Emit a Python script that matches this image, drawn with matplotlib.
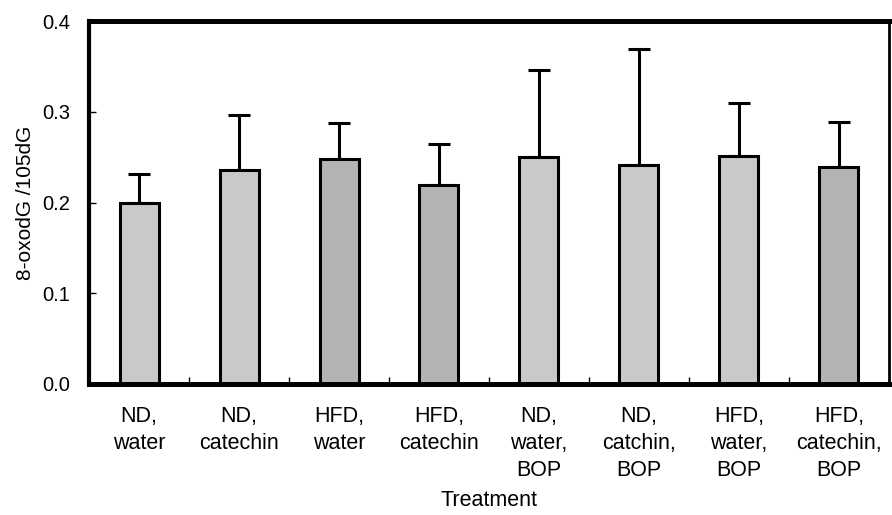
import matplotlib.pyplot as plt
import numpy as np

plt.rcParams['font.family'] = ['Liberation Sans', 'DejaVu Sans']

# data
categories = ['ND,\nwater', 'ND,\ncatechin', 'HFD,\nwater', 'HFD,\ncatechin',
              'ND,\nwater,\nBOP', 'ND,\ncatchin,\nBOP', 'HFD,\nwater,\nBOP', 'HFD,\ncatechin,\nBOP']
means = [0.200, 0.236, 0.248, 0.219, 0.250, 0.241, 0.251, 0.239]
sd_upper = [0.032, 0.060, 0.040, 0.045, 0.096, 0.128, 0.059, 0.050]
shade = ['light', 'light', 'dark', 'dark', 'light', 'light', 'light', 'dark']
yticks = [0.0, 0.1, 0.2, 0.3, 0.4]

colors = {'light': '#c9c9c9', 'dark': '#b3b3b3'}

fig = plt.figure(figsize=(8.92, 5.15), dpi=100)
ax = fig.add_axes([0.0998, 0.2544, 0.8968, 0.7046])

x = np.arange(len(categories))
ax.bar(x, means, width=0.39, color=[colors[s] for s in shade],
       edgecolor='black', linewidth=2.2, zorder=2)
ax.errorbar(x, means, yerr=[np.zeros(len(means)), sd_upper], fmt='none',
            ecolor='black', elinewidth=2.2, capsize=8, capthick=2.2, zorder=1)

ax.set_xlim(-0.5, len(categories) - 0.5)
ax.set_ylim(0, 0.4)
ax.set_yticks(yticks)
ax.set_yticklabels([f'{v:.1f}' for v in yticks], fontsize=14.5)
ax.set_xticks(x)
ax.set_xticklabels(categories, fontsize=15.5, linespacing=1.38)
ax.set_xticks(np.arange(0.5, len(categories) - 1, 1.0), minor=True)
ax.tick_params(axis='x', which='major', length=0, pad=16)
ax.tick_params(axis='x', which='minor', direction='in', length=5, width=1)
ax.tick_params(axis='y', direction='in', length=5, width=1, pad=13.5)

for side, lw in [('left', 3.0), ('bottom', 3.6), ('top', 3.6), ('right', 2.0)]:
    ax.spines[side].set_linewidth(lw)

ax.set_xlabel('Treatment', fontsize=15.5, labelpad=6)
ax.set_ylabel('8-oxodG /105dG', fontsize=15)
ax.yaxis.set_label_coords(-0.068, 0.5)

fig.savefig('out.png', dpi=100)
